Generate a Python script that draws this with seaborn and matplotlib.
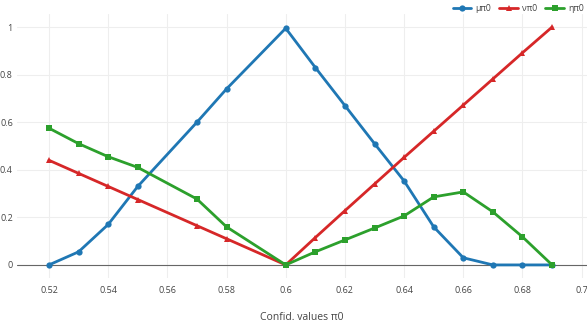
import matplotlib
matplotlib.use("Agg")
import matplotlib.pyplot as plt
import matplotlib.ticker as mticker
import seaborn as sns
import pandas as pd

x_vals = [0.52, 0.53, 0.54, 0.55, 0.57, 0.58, 0.60, 0.61, 0.62, 0.63,
          0.64, 0.65, 0.66, 0.67, 0.68, 0.69]
mu_pi0 = [0.0, 0.055, 0.17, 0.33, 0.60, 0.74, 0.995, 0.83, 0.67, 0.51,
          0.353, 0.16, 0.03, 0.0, 0.0, 0.0]
nu_pi0 = [0.44, 0.385, 0.33, 0.275, 0.165, 0.11, 0.0, 0.115, 0.228, 0.34,
          0.452, 0.562, 0.672, 0.782, 0.892, 1.0]
eta_pi0 = [0.575, 0.51, 0.455, 0.41, 0.277, 0.16, 0.0, 0.055, 0.105, 0.155,
           0.206, 0.286, 0.307, 0.223, 0.118, 0.0]
series_names = ["μπ0", "νπ0", "ηπ0"]
x_ticks = [0.52, 0.54, 0.56, 0.58, 0.60, 0.62, 0.64, 0.66, 0.68, 0.70]
y_ticks = [0, 0.2, 0.4, 0.6, 0.8, 1.0]
x_title = "Confid. values π0"

sns.set_style("white")
plt.rcParams["font.family"] = ["Open Sans", "DejaVu Sans"]

df = pd.DataFrame({
    "x": x_vals * 3,
    "y": mu_pi0 + nu_pi0 + eta_pi0,
    "series": [series_names[0]] * len(x_vals) + [series_names[1]] * len(x_vals)
              + [series_names[2]] * len(x_vals),
})

colors = {"μπ0": "#1f77b4", "νπ0": "#d62728", "ηπ0": "#2ca02c"}
markers = {"μπ0": "o", "νπ0": "^", "ηπ0": "s"}
msizes = {"μπ0": 4.5, "νπ0": 4.0, "ηπ0": 4.5}

fig = plt.figure(figsize=(5.87, 3.32), dpi=100)
ax = fig.add_axes([17 / 587, (332 - 278) / 332, 570 / 587, (278 - 14) / 332])

for name in series_names:
    sub = df[df["series"] == name]
    sns.lineplot(data=sub, x="x", y="y", ax=ax, color=colors[name],
                 marker=markers[name], markersize=msizes[name],
                 markeredgewidth=0, linewidth=2.0, label=name)

ax.set_xlim(0.5092, 0.7018)
ax.set_ylim(-0.055, 1.055)
ax.set_xticks(x_ticks)
ax.set_yticks(y_ticks)
ax.xaxis.set_major_formatter(mticker.FuncFormatter(lambda v, p: f"{v:g}"))
ax.yaxis.set_major_formatter(mticker.FuncFormatter(lambda v, p: f"{v:g}"))
ax.tick_params(axis="both", length=0, labelsize=6.5, colors="#444444")
ax.tick_params(axis="x", pad=6)
ax.tick_params(axis="y", pad=3)
ax.grid(True, color="#eeeeee", linewidth=0.8)
ax.set_axisbelow(True)
ax.axhline(0, color="#666666", linewidth=0.8, zorder=1)
for s in ax.spines.values():
    s.set_visible(False)
ax.set_xlabel(x_title, fontsize=7.5, color="#444444", labelpad=12)
ax.set_ylabel("")

leg = ax.legend(loc="upper right", bbox_to_anchor=(1.0, 1.05), ncol=3,
                frameon=False, fontsize=6.2, handlelength=2.2,
                columnspacing=1.0, handletextpad=0.4, borderaxespad=0)
for t in leg.get_texts():
    t.set_color("#444444")

fig.savefig("out.png", dpi=100)
